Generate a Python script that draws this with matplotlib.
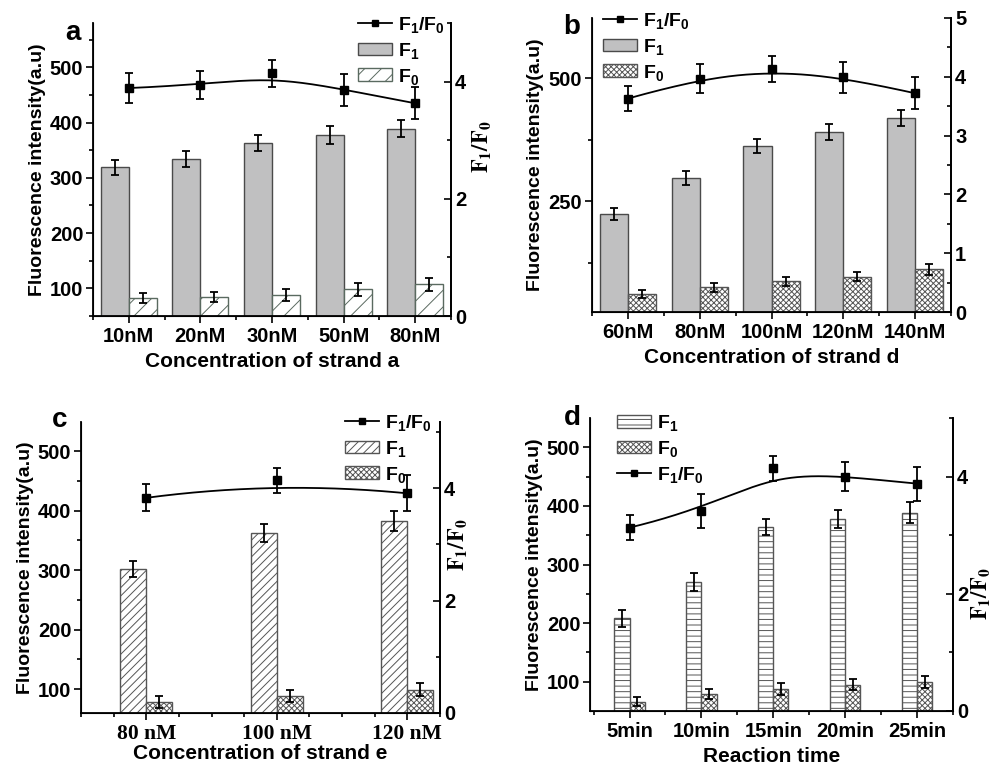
import numpy as np
import matplotlib
matplotlib.use('Agg')
import matplotlib.pyplot as plt
from matplotlib.lines import Line2D
from matplotlib.ticker import FixedLocator

plt.rcParams.update({
    'font.family': ['Liberation Sans', 'DejaVu Sans'],
    'font.weight': 'bold',
    'mathtext.fontset': 'custom',
    'mathtext.rm': 'Liberation Sans:bold',
    'mathtext.bf': 'Liberation Sans:bold',
    'mathtext.it': 'Liberation Sans:bold',
    'hatch.linewidth': 0.7,
})

# ---------------- data ----------------
cat_a = ['10nM', '20nM', '30nM', '50nM', '80nM']
f1_a = [319, 334, 363, 377, 389]
f1_a_err = [14, 15, 14, 16, 16]
f0_a = [82, 85, 88, 98, 107]
f0_a_err = [9, 9, 10, 11, 11]
ratio_a = [3.89, 3.94, 4.14, 3.86, 3.63]
ratio_a_err = [0.25, 0.24, 0.23, 0.27, 0.27]

cat_b = ['60nM', '80nM', '100nM', '120nM', '140nM']
f1_b = [224, 297, 362, 390, 419]
f1_b_err = [13, 14, 15, 16, 17]
f0_b = [62, 75, 87, 97, 112]
f0_b_err = [8, 9, 10, 10, 11]
ratio_b = [3.63, 3.97, 4.13, 3.99, 3.72]
ratio_b_err = [0.21, 0.25, 0.22, 0.26, 0.27]

cat_c = ['80 nM', '100 nM', '120 nM']
f1_c = [302, 363, 383]
f1_c_err = [14, 15, 17]
f0_c = [79, 88, 99]
f0_c_err = [10, 10, 11]
ratio_c = [3.83, 4.14, 3.91]
ratio_c_err = [0.24, 0.22, 0.32]

cat_d = ['5min', '10min', '15min', '20min', '25min']
f1_d = [208, 270, 364, 378, 388]
f1_d_err = [14, 16, 13, 15, 18]
f0_d = [66, 79, 88, 95, 100]
f0_d_err = [8, 9, 10, 10, 10]
ratio_d = [3.13, 3.42, 4.14, 4.00, 3.88]
ratio_d_err = [0.21, 0.29, 0.22, 0.25, 0.29]

LBL_R = r'F$_\mathbf{1}$/F$_\mathbf{0}$'
LBL_1 = r'F$_\mathbf{1}$'
LBL_0 = r'F$_\mathbf{0}$'

W, H = 992, 765
fig = plt.figure(figsize=(W / 100, H / 100), dpi=100)


def rect(l, t, r, b):
    return [l / W, 1 - b / H, (r - l) / W, (b - t) / H]


def bspline(cx, cy, k=3, num=300):
    cx = np.asarray(cx, float)
    cy = np.asarray(cy, float)
    m = len(cx)
    k = min(k, m - 1)
    T = np.r_[np.zeros(k), np.linspace(0, 1, m - k + 1), np.ones(k)]
    u = np.linspace(0, 1, num)
    u[-1] = 1 - 1e-9

    def N(i, p):
        if p == 0:
            return ((T[i] <= u) & (u < T[i + 1])).astype(float)
        out = np.zeros_like(u)
        d1 = T[i + p] - T[i]
        d2 = T[i + p + 1] - T[i + 1]
        if d1 > 0:
            out += (u - T[i]) / d1 * N(i, p - 1)
        if d2 > 0:
            out += (T[i + p + 1] - u) / d2 * N(i + 1, p - 1)
        return out

    B = np.array([N(i, k) for i in range(m)])
    return B.T @ cx, B.T @ cy


def panel(box, cats, f1, f1e, f0, f0e, r, re, ylim, ylim2, width,
          st1, st0, ymaj, ymin, y2maj, y2min, xlim, legend_pos, order,
          letter, letter_pos, rlabel=None, rlabel_pos=None, xlabel='',
          xtick_family=None, xminor=None, xlabelpad=4):
    ax = fig.add_axes(rect(*box))
    x = np.arange(len(cats))
    ekw = dict(ecolor='black', elinewidth=1.3, capsize=3, capthick=1.3)
    b1 = ax.bar(x - width / 2, f1, width, yerr=f1e, error_kw=ekw, **st1)
    b0 = ax.bar(x + width / 2, f0, width, yerr=f0e, error_kw=ekw, **st0)
    ax.set_ylim(*ylim)
    ax.set_xlim(*xlim)
    ax.yaxis.set_major_locator(FixedLocator(ymaj))
    ax.yaxis.set_minor_locator(FixedLocator(ymin))
    ax.set_xticks(x)
    if xtick_family:
        ax.set_xticklabels(cats, family=xtick_family, fontsize=15.5, fontweight='bold')
    else:
        ax.set_xticklabels(cats, fontsize=14.5, fontweight='bold')
    if xminor is not None:
        ax.xaxis.set_minor_locator(FixedLocator(xminor))
    else:
        ax.xaxis.set_minor_locator(FixedLocator(np.arange(-0.5, len(cats), 1.0)))
    ax.tick_params(axis='y', which='major', direction='out', length=5, width=1.2,
                   labelsize=14.5, pad=2)
    ax.tick_params(axis='y', which='minor', direction='out', length=3, width=1.2)
    ax.tick_params(axis='x', which='major', direction='out', length=5, width=1.2, pad=3)
    ax.tick_params(axis='x', which='minor', direction='out', length=3, width=1.2)
    ax.spines['top'].set_visible(False)
    for s in ['left', 'bottom', 'right']:
        ax.spines[s].set_linewidth(1.3)
    ax.set_ylabel('Fluorescence intensity(a.u)', fontsize=14, fontweight='bold', labelpad=3)
    ax.set_xlabel(xlabel, fontsize=15, fontweight='bold', labelpad=xlabelpad)

    ax2 = ax.twinx()
    ax2.set_ylim(*ylim2)
    ax2.spines['top'].set_visible(False)
    ax2.spines['right'].set_linewidth(1.3)
    ax2.yaxis.set_major_locator(FixedLocator(y2maj))
    ax2.yaxis.set_minor_locator(FixedLocator(y2min))
    ax2.tick_params(axis='y', which='major', direction='in', length=5, width=1.2,
                    labelsize=14.5, pad=3)
    ax2.tick_params(axis='y', which='minor', direction='in', length=3, width=1.2)
    sx, sy = bspline(x, r)
    ax2.plot(sx, sy, color='black', lw=1.3)
    ax2.errorbar(x, r, yerr=re, fmt='s', color='black', ms=5.5,
                 elinewidth=1.3, capsize=3, capthick=1.3)
    if rlabel:
        ax2.set_ylabel(r'$\mathbf{F_1/F_0}$', fontsize=16, math_fontfamily='stix')
        ax2.yaxis.set_label_coords(*rlabel_pos)

    lh = Line2D([], [], color='black', marker='s', ms=5, lw=1.3)
    hmap = {'r': (lh, LBL_R), '1': (b1, LBL_1), '0': (b0, LBL_0)}
    hs = [hmap[o][0] for o in order]
    ls = [hmap[o][1] for o in order]
    ax2.legend(hs, ls, loc='upper left', bbox_to_anchor=(legend_pos[0] / W, 1 - legend_pos[1] / H),
               bbox_transform=fig.transFigure, frameon=False, fontsize=14,
               handlelength=1.75, handleheight=0.65, handletextpad=0.3,
               labelspacing=0.3, borderpad=0, borderaxespad=0)
    fig.text(letter_pos[0] / W, 1 - letter_pos[1] / H, letter, fontsize=20,
             fontweight='bold', ha='center', va='center')
    return ax, ax2


gray = dict(color='#c0c0c1', edgecolor='#4a4a4a', linewidth=1.0)
diag_sparse = dict(color='white', edgecolor='#5a6a60', linewidth=1.0, hatch='//')
diag_dense = dict(color='white', edgecolor='#555555', linewidth=1.0, hatch='////')
cross = dict(color='white', edgecolor='#555555', linewidth=1.0, hatch='xxxxxx')
horiz = dict(color='white', edgecolor='#555555', linewidth=1.0, hatch='---')

# panel a
panel((93, 23, 451, 316), cat_a, f1_a, f1_a_err, f0_a, f0_a_err, ratio_a, ratio_a_err,
      (50, 580), (0, 5), 0.39, gray, diag_sparse,
      [100, 200, 300, 400, 500], [50, 150, 250, 350, 450, 550],
      [0, 2, 4], [1, 3, 5], (-0.5, 4.5), (358, 15), ['r', '1', '0'],
      'a', (73, 33), True, (1.055, 0.577), 'Concentration of strand a')

# panel b
panel((592, 18, 951, 312), cat_b, f1_b, f1_b_err, f0_b, f0_b_err, ratio_b, ratio_b_err,
      (25, 622), (0, 5), 0.39, gray, cross,
      [250, 500], [125, 375, 625],
      [0, 1, 2, 3, 4, 5], list(np.arange(0.5, 5, 1.0)), (-0.5, 4.5), (603, 11), ['r', '1', '0'],
      'b', (572, 27), False, None, 'Concentration of strand d')

# panel c
panel((81, 422, 440, 713), cat_c, f1_c, f1_c_err, f0_c, f0_c_err, ratio_c, ratio_c_err,
      (60, 549), (0, 5.18), 0.2, diag_dense, cross,
      [100, 200, 300, 400, 500], [150, 250, 350, 450],
      [0, 2, 4], [1, 3, 5], (-0.5, 2.25), (345, 413), ['r', '1', '0'],
      'c', (60, 420), True, (1.02, 0.577), 'Concentration of strand e',
      xtick_family=['Liberation Serif'],
      xminor=[-0.5, -0.25, 0.25, 0.5, 0.75, 1.25, 1.5, 1.75, 2.25], xlabelpad=0)

# panel d
panel((590, 418, 953, 711), cat_d, f1_d, f1_d_err, f0_d, f0_d_err, ratio_d, ratio_d_err,
      (50, 550), (0, 5), 0.21, horiz, cross,
      [100, 200, 300, 400, 500], [150, 250, 350, 450],
      [0, 2, 4], [1, 3, 5], (-0.55, 4.5), (617, 413), ['1', '0', 'r'],
      'd', (572, 418), True, (1.045, 0.40), 'Reaction time')

fig.savefig('out.png', dpi=100)
